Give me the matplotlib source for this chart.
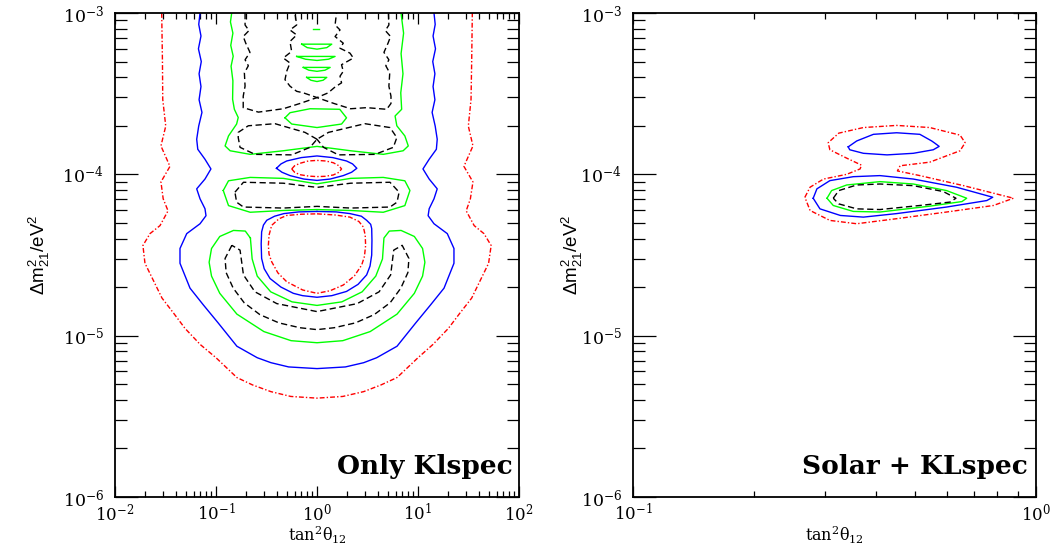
import matplotlib
matplotlib.use("Agg")
import matplotlib.pyplot as plt
from matplotlib.ticker import LogLocator, LogFormatterMathtext, NullFormatter

# ---------------- KamLAND spectrum only (left panel) ----------------
# outer red dash-dot band, open at the top
kl_red_x = [0.029, 0.0295, 0.0297, 0.0318, 0.0285, 0.035, 0.0285, 0.030, 0.0335, 0.0279,
            0.0222, 0.0189, 0.0198, 0.0292, 0.038, 0.0493, 0.07, 0.1, 0.161, 0.23,
            0.349, 0.55, 1.0, 1.8, 2.9, 4.3, 6.2, 10, 14, 20,
            26, 34, 50, 53, 45, 36, 30, 33, 35, 28.5,
            35, 31.5, 33.5, 34, 34.5]
kl_red_y = [1e-3, 5e-4, 2.91e-4, 1.99e-4, 1.5e-4, 1.12e-4, 8.97e-5, 7.05e-5, 5.94e-5, 4.81e-5,
            4.29e-5, 3.62e-5, 2.81e-5, 1.71e-5, 1.38e-5, 1.11e-5, 8.8e-6, 7.3e-6, 5.5e-6, 4.95e-6,
            4.5e-6, 4.2e-6, 4.1e-6, 4.2e-6, 4.5e-6, 4.95e-6, 5.5e-6, 7.3e-6, 8.8e-6, 1.11e-5,
            1.38e-5, 1.71e-5, 2.81e-5, 3.62e-5, 4.29e-5, 4.81e-5, 5.94e-5, 7.05e-5, 8.97e-5, 1.12e-4,
            1.5e-4, 1.99e-4, 2.91e-4, 5e-4, 1e-3]
kl_red_lo_x = [1.0, 1.5, 2.12, 2.6, 2.88, 3.0, 3.03, 2.95, 2.77, 2.35,
               1.82, 1.35, 1.0, 0.72, 0.501, 0.41, 0.356, 0.335, 0.330, 0.335,
               0.356, 0.42, 0.501, 0.7, 1.0]
kl_red_lo_y = [5.69e-5, 5.6e-5, 5.43e-5, 5.1e-5, 4.71e-5, 4.2e-5, 3.63e-5, 3.1e-5, 2.74e-5, 2.35e-5,
               2.06e-5, 1.9e-5, 1.83e-5, 1.92e-5, 2.16e-5, 2.45e-5, 2.87e-5, 3.2e-5, 3.63e-5, 4.2e-5,
               4.83e-5, 5.3e-5, 5.56e-5, 5.66e-5, 5.69e-5]
kl_red_hi_x = [0.562, 0.6, 0.677, 0.82, 1.0, 1.22, 1.45, 1.65, 1.75, 1.65,
               1.45, 1.2, 1.0, 0.83, 0.677, 0.6, 0.562]
kl_red_hi_y = [1.08e-4, 1.13e-4, 1.17e-4, 1.21e-4, 1.22e-4, 1.21e-4, 1.18e-4, 1.13e-4, 1.08e-4, 1.03e-4,
               9.91e-5, 9.72e-5, 9.68e-5, 9.75e-5, 9.95e-5, 1.03e-4, 1.08e-4]

# blue
kl_blue_x = [0.0695, 0.0675, 0.071, 0.067, 0.0715, 0.068, 0.071, 0.068, 0.0726, 0.0674,
             0.0644, 0.066, 0.0778, 0.0891, 0.0778, 0.0644, 0.0695, 0.0778, 0.0796, 0.0695,
             0.0513, 0.044, 0.044, 0.0553, 0.075, 0.105, 0.161, 0.256, 0.35, 0.524,
             1.0, 1.91, 2.9, 3.9, 6.2, 9.5, 13.3, 18.1, 22.7, 22.7,
             19.5, 14.4, 12.6, 12.9, 14.4, 15.5, 12.9, 11.2, 12.9, 15.2,
             15.5, 14.8, 13.8, 14.7, 14.1, 14.7, 14.0, 14.9, 14.1, 14.8,
             14.4]
kl_blue_y = [1e-3, 8.5e-4, 7.2e-4, 6.0e-4, 5.0e-4, 4.2e-4, 3.5e-4, 2.9e-4, 2.42e-4, 1.99e-4,
             1.65e-4, 1.43e-4, 1.24e-4, 1.08e-4, 9.35e-5, 8.13e-5, 7.05e-5, 6.12e-5, 5.54e-5, 4.94e-5,
             4.29e-5, 3.47e-5, 2.81e-5, 1.97e-5, 1.55e-5, 1.2e-5, 8.6e-6, 7.3e-6, 6.8e-6, 6.4e-6,
             6.25e-6, 6.4e-6, 6.8e-6, 7.3e-6, 8.6e-6, 1.2e-5, 1.55e-5, 1.97e-5, 2.81e-5, 3.47e-5,
             4.29e-5, 4.94e-5, 5.54e-5, 6.12e-5, 7.05e-5, 8.13e-5, 9.35e-5, 1.08e-4, 1.24e-4, 1.43e-4,
             1.65e-4, 1.99e-4, 2.42e-4, 2.9e-4, 3.5e-4, 4.2e-4, 5.0e-4, 6.0e-4, 7.2e-4, 8.5e-4,
             1e-3]
kl_blue_lo_x = [1.0, 1.55, 2.12, 2.75, 3.10, 3.4, 3.48, 3.5, 3.48, 3.35,
                3.10, 2.55, 1.96, 1.4, 1.0, 0.72, 0.583, 0.44, 0.343, 0.30,
                0.283, 0.28, 0.283, 0.295, 0.318, 0.38, 0.47, 0.66, 1.0]
kl_blue_lo_y = [5.89e-5, 5.85e-5, 5.71e-5, 5.5e-5, 5.19e-5, 4.9e-5, 4.61e-5, 3.9e-5, 3.16e-5, 2.7e-5,
                2.38e-5, 2.08e-5, 1.88e-5, 1.77e-5, 1.73e-5, 1.77e-5, 1.83e-5, 2.0e-5, 2.26e-5, 2.6e-5,
                3.01e-5, 3.7e-5, 4.40e-5, 4.85e-5, 5.19e-5, 5.5e-5, 5.71e-5, 5.85e-5, 5.89e-5]
kl_blue_hi_x = [0.397, 0.44, 0.501, 0.7, 1.0, 1.43, 1.96, 2.25, 2.48, 2.2,
                1.82, 1.35, 1.0, 0.74, 0.541, 0.45, 0.397]
kl_blue_hi_y = [1.09e-4, 1.16e-4, 1.21e-4, 1.27e-4, 1.30e-4, 1.27e-4, 1.21e-4, 1.16e-4, 1.09e-4, 1.03e-4,
                9.82e-5, 9.35e-5, 9.17e-5, 9.35e-5, 9.82e-5, 1.03e-4, 1.09e-4]

# green
kl_green_top_x = [0.143, 0.139, 0.147, 0.140, 0.148, 0.141, 0.147, 0.146, 0.152, 0.166,
                  0.160, 0.133, 0.123, 0.138, 0.218, 0.464, 1.0, 2.15, 4.53, 7.13,
                  8.01, 7.41, 6.17, 5.93, 6.89, 6.75, 7.1, 6.8, 7.2, 6.79]
kl_green_top_y = [1e-3, 8.8e-4, 7.5e-4, 6.3e-4, 5.4e-4, 4.68e-4, 3.8e-4, 2.92e-4, 2.53e-4, 2.25e-4,
                  2.05e-4, 1.73e-4, 1.50e-4, 1.40e-4, 1.33e-4, 1.40e-4, 1.49e-4, 1.40e-4, 1.33e-4, 1.40e-4,
                  1.50e-4, 1.73e-4, 2.0e-4, 2.30e-4, 2.53e-4, 3.2e-4, 4.2e-4, 5.6e-4, 7.5e-4, 1e-3]
kl_green_loop_x = [0.482, 0.541, 0.853, 1.68, 1.96, 1.75, 1.0, 0.562, 0.482]
kl_green_loop_y = [2.24e-4, 2.41e-4, 2.55e-4, 2.53e-4, 2.24e-4, 2.05e-4, 1.95e-4, 2.05e-4, 2.24e-4]
kl_green_mid_x = [0.118, 0.133, 0.218, 0.464, 1.0, 2.15, 4.53, 7.41, 8.32, 7.41, 4.53, 2.15,
                  1.0, 0.464, 0.218, 0.133, 0.118]
kl_green_mid_y = [7.94e-5, 9.12e-5, 9.57e-5, 9.44e-5, 8.73e-5, 9.44e-5, 9.57e-5, 9.12e-5, 7.94e-5,
                  6.40e-5, 5.82e-5, 5.97e-5, 6.05e-5, 5.97e-5, 5.82e-5, 6.40e-5, 7.94e-5]
kl_green_lo_x = [0.219, 0.195, 0.149, 0.109, 0.0903, 0.0855, 0.0903, 0.109, 0.161, 0.298,
                 0.554, 1.0, 1.80, 3.36, 6.2, 9.2, 11.1, 11.7, 11.1, 9.2,
                 6.8, 5.2, 4.6, 4.45, 3.82, 2.80, 1.76, 1.0, 0.566, 0.348,
                 0.256, 0.228, 0.219]
kl_green_lo_y = [4.03e-5, 4.45e-5, 4.49e-5, 4.12e-5, 3.47e-5, 2.85e-5, 2.34e-5, 1.83e-5, 1.36e-5, 1.06e-5,
                 9.31e-6, 9.04e-6, 9.31e-6, 1.06e-5, 1.36e-5, 1.83e-5, 2.34e-5, 2.85e-5, 3.47e-5, 4.12e-5,
                 4.49e-5, 4.45e-5, 4.03e-5, 2.99e-5, 2.34e-5, 1.87e-5, 1.62e-5, 1.54e-5, 1.62e-5, 1.87e-5,
                 2.34e-5, 2.99e-5, 4.03e-5]
# small islands at large dm2
kl_green_isl1_x = [0.705, 1.40, 1.25, 1.0, 0.80, 0.705]
kl_green_isl1_y = [6.41e-4, 6.41e-4, 6.1e-4, 5.97e-4, 6.1e-4, 6.41e-4]
kl_green_isl2_x = [0.629, 1.51, 1.30, 1.0, 0.77, 0.629]
kl_green_isl2_y = [5.38e-4, 5.38e-4, 5.17e-4, 5.08e-4, 5.17e-4, 5.38e-4]
kl_green_isl3_x = [0.732, 1.35, 1.2, 1.0, 0.83, 0.732]
kl_green_isl3_y = [4.6e-4, 4.6e-4, 4.42e-4, 4.35e-4, 4.42e-4, 4.6e-4]
kl_green_isl4_x = [0.79, 1.25, 1.15, 1.0, 0.87, 0.79]
kl_green_isl4_y = [3.99e-4, 3.99e-4, 3.83e-4, 3.76e-4, 3.83e-4, 3.99e-4]
kl_green_isl5_x = [0.919, 1.047]
kl_green_isl5_y = [7.96e-4, 7.96e-4]

# black dashed
kl_black_a_x = [0.194, 0.194, 0.212, 0.186, 0.197, 0.217, 0.194, 0.209, 0.191, 0.194,
                0.186, 0.186, 0.263, 0.464, 0.679, 1.0, 1.29, 1.51, 1.75, 1.69,
                1.82, 1.75, 2.29, 2.12, 1.69, 1.82, 1.51, 1.69, 1.51, 1.56]
kl_black_a_y = [1e-3, 8.43e-4, 7.78e-4, 7.15e-4, 6.5e-4, 5.7e-4, 5.13e-4, 4.71e-4, 4.25e-4, 3.52e-4,
                3.05e-4, 2.59e-4, 2.43e-4, 2.55e-4, 2.75e-4, 2.99e-4, 3.2e-4, 3.48e-4, 3.69e-4, 4.06e-4,
                4.35e-4, 4.78e-4, 5.26e-4, 5.64e-4, 6.05e-4, 6.5e-4, 7.15e-4, 7.85e-4, 8.43e-4, 1e-3]
kl_black_b_x = [5.1, 5.15, 4.75, 5.35, 5.05, 4.6, 5.15, 4.8, 5.25, 5.15,
                5.4, 5.4, 4.9, 3.1, 2.15, 1.47, 1.0, 0.732, 0.629, 0.54,
                0.482, 0.501, 0.54, 0.464, 0.561, 0.54, 0.629, 0.54, 0.629, 0.605]
kl_black_b_y = [1e-3, 8.43e-4, 7.78e-4, 7.15e-4, 6.5e-4, 5.7e-4, 5.13e-4, 4.71e-4, 4.25e-4, 3.52e-4,
                3.05e-4, 2.75e-4, 2.53e-4, 2.59e-4, 2.55e-4, 2.75e-4, 2.99e-4, 3.2e-4, 3.27e-4, 3.52e-4,
                3.86e-4, 4.35e-4, 4.9e-4, 5.26e-4, 5.78e-4, 6.66e-4, 7.31e-4, 7.85e-4, 8.43e-4, 1e-3]
kl_black_bow_x = [1.0, 0.760, 0.384, 0.209, 0.166, 0.166, 0.173, 0.243, 0.561, 0.853,
                  1.0, 1.30, 2.98, 5.28, 6.17, 5.70, 3.76, 1.63, 1.16, 1.0]
kl_black_bow_y = [1.65e-4, 1.82e-4, 2.06e-4, 2.0e-4, 1.82e-4, 1.69e-4, 1.47e-4, 1.33e-4, 1.32e-4, 1.47e-4,
                  1.65e-4, 1.82e-4, 2.06e-4, 1.95e-4, 1.69e-4, 1.47e-4, 1.33e-4, 1.32e-4, 1.47e-4, 1.65e-4]
kl_black_mid_x = [0.154, 0.187, 0.464, 1.0, 2.15, 5.28, 6.50, 6.2, 5.28, 2.15, 1.0, 0.464, 0.187, 0.16, 0.154]
kl_black_mid_y = [7.75e-5, 8.93e-5, 8.81e-5, 8.30e-5, 8.81e-5, 8.93e-5, 7.75e-5, 6.72e-5, 6.27e-5,
                  6.18e-5, 6.33e-5, 6.18e-5, 6.27e-5, 6.72e-5, 7.75e-5]
kl_black_lo_x = [0.1435, 0.123, 0.126, 0.148, 0.19, 0.272, 0.42, 0.677, 1.0, 1.48,
                 2.4, 3.68, 5.3, 6.76, 7.94, 8.13, 6.97, 5.75, 5.36, 4.12,
                 2.50, 1.0, 0.40, 0.243, 0.187, 0.173, 0.1435]
kl_black_lo_y = [3.63e-5, 3.01e-5, 2.46e-5, 1.97e-5, 1.6e-5, 1.35e-5, 1.2e-5, 1.12e-5, 1.09e-5, 1.12e-5,
                 1.2e-5, 1.35e-5, 1.6e-5, 1.97e-5, 2.46e-5, 3.01e-5, 3.63e-5, 3.39e-5, 2.38e-5, 1.87e-5,
                 1.58e-5, 1.41e-5, 1.58e-5, 1.87e-5, 2.38e-5, 3.39e-5, 3.63e-5]

# ---------------- solar + KamLAND spectrum (right panel) ----------------
sk_red_x = [0.267, 0.275, 0.297, 0.339, 0.366, 0.369, 0.339, 0.308, 0.305, 0.324,
            0.373, 0.451, 0.545, 0.648, 0.667, 0.648, 0.545, 0.460, 0.453, 0.515,
            0.661, 0.879, 0.784, 0.600, 0.451, 0.359, 0.308, 0.275, 0.267]
sk_red_y = [7.21e-5, 8.32e-5, 9.35e-5, 1.0e-4, 1.08e-4, 1.14e-4, 1.26e-4, 1.42e-4, 1.57e-4, 1.80e-4,
            1.95e-4, 2.01e-4, 1.95e-4, 1.75e-4, 1.57e-4, 1.40e-4, 1.19e-4, 1.13e-4, 1.05e-4, 9.82e-5,
            8.51e-5, 7.11e-5, 6.41e-5, 5.84e-5, 5.31e-5, 4.94e-5, 5.18e-5, 5.97e-5, 7.21e-5]
sk_blue_up_x = [0.342, 0.359, 0.395, 0.451, 0.515, 0.551, 0.561, 0.575, 0.556, 0.496, 0.427, 0.373, 0.345, 0.342]
sk_blue_up_y = [1.48e-4, 1.61e-4, 1.77e-4, 1.81e-4, 1.77e-4, 1.61e-4, 1.56e-4, 1.49e-4, 1.42e-4,
                1.35e-4, 1.32e-4, 1.35e-4, 1.42e-4, 1.48e-4]
sk_blue_lo_x = [0.280, 0.286, 0.308, 0.352, 0.410, 0.496, 0.635, 0.781, 0.755, 0.600, 0.451, 0.373, 0.327, 0.291, 0.280]
sk_blue_lo_y = [7.11e-5, 8.13e-5, 9.14e-5, 9.67e-5, 9.82e-5, 9.35e-5, 8.32e-5, 7.21e-5, 6.88e-5,
                6.27e-5, 5.71e-5, 5.43e-5, 5.56e-5, 6.11e-5, 7.11e-5]
sk_green_x = [0.303, 0.311, 0.339, 0.410, 0.496, 0.600, 0.673, 0.655, 0.545, 0.410, 0.352, 0.314, 0.303]
sk_green_y = [7.11e-5, 7.93e-5, 8.59e-5, 9.01e-5, 8.71e-5, 7.93e-5, 7.11e-5, 6.78e-5, 6.35e-5,
              5.84e-5, 5.89e-5, 6.41e-5, 7.11e-5]
sk_black_x = [0.314, 0.324, 0.359, 0.410, 0.496, 0.589, 0.633, 0.612, 0.515, 0.410, 0.359, 0.324, 0.314]
sk_black_y = [7.11e-5, 7.93e-5, 8.59e-5, 8.71e-5, 8.51e-5, 7.82e-5, 7.11e-5, 6.73e-5, 6.41e-5,
              6.05e-5, 6.11e-5, 6.56e-5, 7.11e-5]

RED = dict(color="#ff0000", lw=1.0, ls=(0, (3.5, 1.5, 1.0, 1.5)))
BLUE = dict(color="#0000ff", lw=1.0, ls="-")
GREEN = dict(color="#00ff00", lw=1.0, ls="-")
BLACK = dict(color="black", lw=1.0, ls=(0, (4.5, 2.5)))

plt.rcParams["font.family"] = "DejaVu Serif"
plt.rcParams["mathtext.fontset"] = "dejavuserif"
plt.rcParams["mathtext.rm"] = "Liberation Sans"
plt.rcParams["mathtext.it"] = "Liberation Sans:italic"
plt.rcParams["mathtext.bf"] = "Liberation Sans:bold"


def setup_axes(ax, xlim):
    ax.set_xscale("log")
    ax.set_yscale("log")
    ax.set_xlim(*xlim)
    ax.set_ylim(1e-6, 1e-3)
    for sp in ax.spines.values():
        sp.set_linewidth(1.3)
    for axis in (ax.xaxis, ax.yaxis):
        axis.set_major_locator(LogLocator(base=10, numticks=10))
        axis.set_minor_locator(LogLocator(base=10, subs=range(2, 10), numticks=20))
        axis.set_major_formatter(LogFormatterMathtext())
        axis.set_minor_formatter(NullFormatter())
    ax.tick_params(axis="x", which="major", direction="in", length=8, width=0.9,
                   top=True, pad=4, labelsize=12)
    ax.tick_params(axis="x", which="minor", direction="in", length=4, width=0.9, top=True)
    ax.tick_params(axis="y", which="major", direction="in", length=16.5, width=0.9,
                   right=True, pad=8, labelsize=12.5)
    ax.tick_params(axis="y", which="minor", direction="in", length=8.5, width=0.9, right=True)
    ax.set_xlabel("tan$^{2}$θ$_{12}$", fontsize=11.5)
    ax.set_ylabel(r"$\Delta\mathrm{m}^{2}_{21}/\mathrm{eV}^{2}$", fontsize=13.5,
                  math_fontfamily="custom")
    ax.xaxis.set_label_coords(0.5, -0.057)


fig = plt.figure(figsize=(10.58, 5.45), dpi=100)
ax1 = fig.add_axes([115 / 1058, 48 / 545, 404 / 1058, 484 / 545])
ax2 = fig.add_axes([633 / 1058, 48 / 545, 403 / 1058, 484 / 545])

setup_axes(ax1, (1e-2, 1e2))
setup_axes(ax2, (1e-1, 1e0))
ax1.yaxis.set_label_coords(-0.155, 0.5)
ax2.yaxis.set_label_coords(-0.12, 0.5)

left_curves = [
    (kl_red_x, kl_red_y, RED), (kl_red_lo_x, kl_red_lo_y, RED), (kl_red_hi_x, kl_red_hi_y, RED),
    (kl_blue_x, kl_blue_y, BLUE), (kl_blue_lo_x, kl_blue_lo_y, BLUE), (kl_blue_hi_x, kl_blue_hi_y, BLUE),
    (kl_green_top_x, kl_green_top_y, GREEN), (kl_green_loop_x, kl_green_loop_y, GREEN),
    (kl_green_mid_x, kl_green_mid_y, GREEN), (kl_green_lo_x, kl_green_lo_y, GREEN),
    (kl_green_isl1_x, kl_green_isl1_y, GREEN), (kl_green_isl2_x, kl_green_isl2_y, GREEN),
    (kl_green_isl3_x, kl_green_isl3_y, GREEN), (kl_green_isl4_x, kl_green_isl4_y, GREEN),
    (kl_green_isl5_x, kl_green_isl5_y, GREEN),
    (kl_black_a_x, kl_black_a_y, BLACK), (kl_black_b_x, kl_black_b_y, BLACK),
    (kl_black_bow_x, kl_black_bow_y, BLACK), (kl_black_mid_x, kl_black_mid_y, BLACK),
    (kl_black_lo_x, kl_black_lo_y, BLACK),
]
right_curves = [
    (sk_red_x, sk_red_y, RED), (sk_blue_up_x, sk_blue_up_y, BLUE), (sk_blue_lo_x, sk_blue_lo_y, BLUE),
    (sk_green_x, sk_green_y, GREEN), (sk_black_x, sk_black_y, BLACK),
]
for x, y, style in left_curves:
    ax1.plot(x, y, **style)
for x, y, style in right_curves:
    ax2.plot(x, y, **style)

ax1.text(0.985, 0.047, "Only Klspec", transform=ax1.transAxes, ha="right", va="baseline",
         fontsize=19, fontweight="bold")
ax2.text(0.98, 0.047, "Solar + KLspec", transform=ax2.transAxes, ha="right", va="baseline",
         fontsize=19, fontweight="bold")

fig.savefig("out.png", dpi=100)
